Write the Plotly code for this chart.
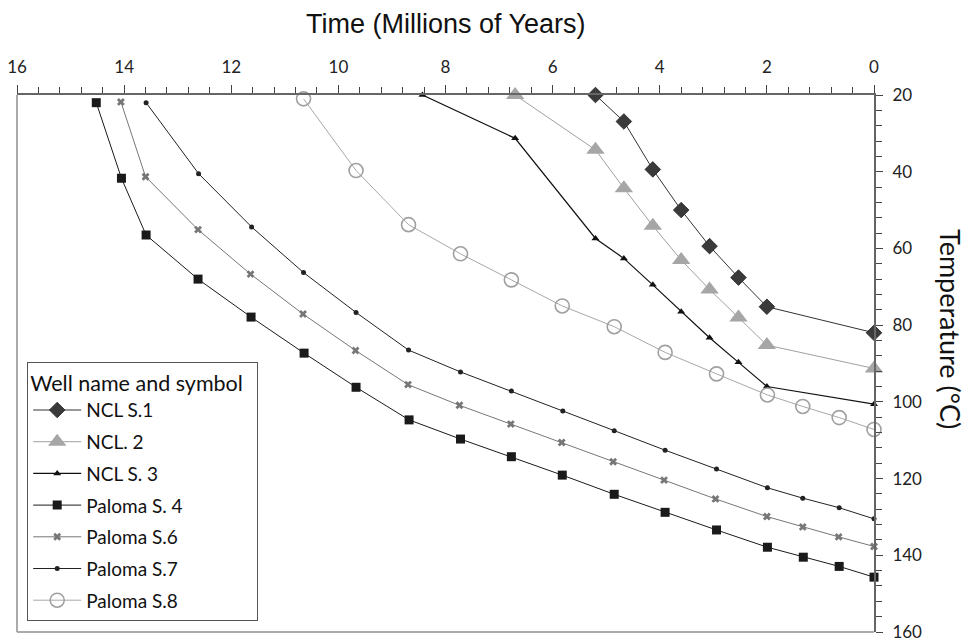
import plotly.graph_objects as go

# ---- data (age in Ma, temperature in °C) ----
ncl1_age = [5.2, 4.67, 4.13, 3.6, 3.07, 2.53, 2.0, 0.0]
ncl1_temp = [20.0, 26.9, 39.4, 50.0, 59.4, 67.6, 75.2, 82.0]

ncl2_age = [6.7, 5.2, 4.67, 4.13, 3.6, 3.07, 2.53, 2.0, 0.0]
ncl2_temp = [20.0, 34.3, 44.3, 54.1, 63.0, 70.7, 78.0, 85.2, 91.3]

ncl3_age = [8.43, 6.7, 5.2, 4.67, 4.13, 3.6, 3.07, 2.53, 2.0, 0.0]
ncl3_temp = [20.0, 31.3, 57.4, 62.6, 69.5, 76.5, 83.3, 89.7, 96.0, 100.6]

pal4_age = [14.52, 14.05, 13.59, 12.62, 11.63, 10.64, 9.67, 8.68, 7.72, 6.77, 5.82, 4.85, 3.9, 2.94, 1.99, 1.32, 0.65, 0.0]
pal4_temp = [22.0, 41.7, 56.5, 68.0, 77.9, 87.3, 96.2, 104.7, 109.7, 114.3, 119.1, 124.1, 128.8, 133.4, 137.9, 140.5, 142.9, 145.7]

pal6_age = [14.06, 13.6, 12.62, 11.64, 10.66, 9.68, 8.7, 7.74, 6.78, 5.83, 4.87, 3.92, 2.96, 2.0, 1.33, 0.66, 0.0]
pal6_temp = [21.8, 41.3, 55.1, 66.7, 77.1, 86.6, 95.5, 100.9, 105.8, 110.6, 115.6, 120.4, 125.3, 129.9, 132.6, 135.2, 137.7]

pal7_age = [13.59, 12.61, 11.62, 10.65, 9.67, 8.69, 7.72, 6.77, 5.81, 4.85, 3.9, 2.94, 1.99, 1.33, 0.65, 0.0]
pal7_temp = [22.0, 40.5, 54.4, 66.3, 76.7, 86.5, 92.2, 97.2, 102.4, 107.5, 112.6, 117.5, 122.4, 125.1, 127.6, 130.5]

pal8_age = [10.65, 9.67, 8.69, 7.72, 6.77, 5.82, 4.85, 3.9, 2.94, 1.99, 1.33, 0.65, 0.0]
pal8_temp = [21.0, 39.7, 53.8, 61.4, 68.2, 75.0, 80.4, 87.1, 92.7, 98.2, 101.2, 104.1, 107.2]

x_ticks = [16, 14, 12, 10, 8, 6, 4, 2, 0]
y_ticks = [20, 40, 60, 80, 100, 120, 140, 160]

series = [
    ("NCL S.1", ncl1_age, ncl1_temp, dict(symbol="diamond", size=12, color="#3a3a3a", line=dict(color="#222", width=0.8)), "#333333", 1.0),
    ("NCL. 2", ncl2_age, ncl2_temp, dict(symbol="triangle-up", size=16, color="#a6a6a6", line=dict(width=0)), "#a0a0a0", 1.0),
    ("NCL S. 3", ncl3_age, ncl3_temp, dict(symbol="triangle-up", size=7, color="#111", line=dict(width=0)), "#111111", 1.2),
    ("Paloma S. 4", pal4_age, pal4_temp, dict(symbol="square", size=9, color="#1a1a1a", line=dict(width=0)), "#1a1a1a", 1.0),
    ("Paloma S.6", pal6_age, pal6_temp, dict(symbol="x", size=7, color="#777777", line=dict(width=0)), "#777777", 1.0),
    ("Paloma S.7", pal7_age, pal7_temp, dict(symbol="circle", size=5, color="#222", line=dict(width=0)), "#222222", 1.0),
    ("Paloma S.8", pal8_age, pal8_temp, dict(symbol="circle-open", size=14, color="#a0a0a0", line=dict(width=1.6)), "#a8a8a8", 1.0),
]

fig = go.Figure()
for i, (name, xs, ys, mk, lc, lw) in enumerate(series):
    fig.add_trace(go.Scatter(
        x=xs, y=ys, name=name, mode="lines+markers",
        line=dict(color=lc, width=lw), marker=mk,
        legendgroup=f"g{i}", cliponaxis=False,
    ))

tick_font = dict(family="Lato, Open Sans, sans-serif", size=17, color="#222")

# the page places the figure 8px in from the top-left corner (default body margin)
OFF = 8
W, H = 970 - OFF, 638 - OFF
L, R, T, B = 17 - OFF, 874 - OFF, 95 - OFF, 632 - OFF
PW, PH = R - L, B - T


def px(xpix):
    return (xpix - OFF - L) / PW


def py(ypix):
    return (B - (ypix - OFF)) / PH


fig.update_layout(
    width=W, height=H,
    margin=dict(l=L, r=W - R, t=T, b=H - B, autoexpand=False),
    paper_bgcolor="white", plot_bgcolor="white",
    showlegend=True,
    legend=dict(
        x=px(27), y=py(362), xanchor="left", yanchor="top",
        bordercolor="#555", borderwidth=1.2, bgcolor="white",
        font=dict(family="Lato, Open Sans, sans-serif", size=19, color="#111"),
        title=dict(text="Well name and symbol&nbsp;&nbsp;", font=dict(family="Lato, Open Sans, sans-serif", size=21.5, color="#111")),
        tracegroupgap=4, itemwidth=48,
    ),
    xaxis=dict(
        side="top", range=[16, 0], tickvals=x_ticks, automargin=False,
        ticks="outside", ticklen=8, tickwidth=1.2, tickcolor="#444",
        minor=dict(dtick=0.4, ticks="outside", ticklen=6, tickwidth=1, tickcolor="#444"),
        showline=True, linecolor="#666", linewidth=2,
        showgrid=False, zeroline=False,
        tickfont=tick_font, ticklabelstandoff=5, ticklabeloverflow="allow",
    ),
    yaxis=dict(
        side="right", range=[160, 20], tickvals=y_ticks, automargin=False,
        ticks="outside", ticklen=7, tickwidth=1.2, tickcolor="#444",
        minor=dict(dtick=4, ticks="outside", ticklen=6, tickwidth=1, tickcolor="#444"),
        showline=True, linecolor="#666", linewidth=2,
        showgrid=False, zeroline=False,
        tickfont=tick_font, ticklabelstandoff=6, ticklabeloverflow="allow",
    ),
    shapes=[
        dict(type="line", xref="paper", yref="paper", x0=0, x1=0, y0=0, y1=1, line=dict(color="#aaaaaa", width=2)),
        dict(type="line", xref="paper", yref="paper", x0=0, x1=1, y0=0, y1=0, line=dict(color="#aaaaaa", width=2)),
    ],
    annotations=[
        dict(text="Time (Millions of Years)", xref="paper", yref="paper",
             x=px(446), y=py(24),
             showarrow=False, xanchor="center", yanchor="middle",
             font=dict(family="Liberation Sans Narrow, Liberation Sans, Arial", size=27, color="#111")),
        dict(text="Temperature (°C)", xref="paper", yref="paper",
             x=px(951), y=py(329),
             showarrow=False, xanchor="center", yanchor="middle", textangle=90,
             font=dict(family="Lato, Open Sans, sans-serif", size=27, color="#111")),
    ],
)

fig.write_html("out.html")
